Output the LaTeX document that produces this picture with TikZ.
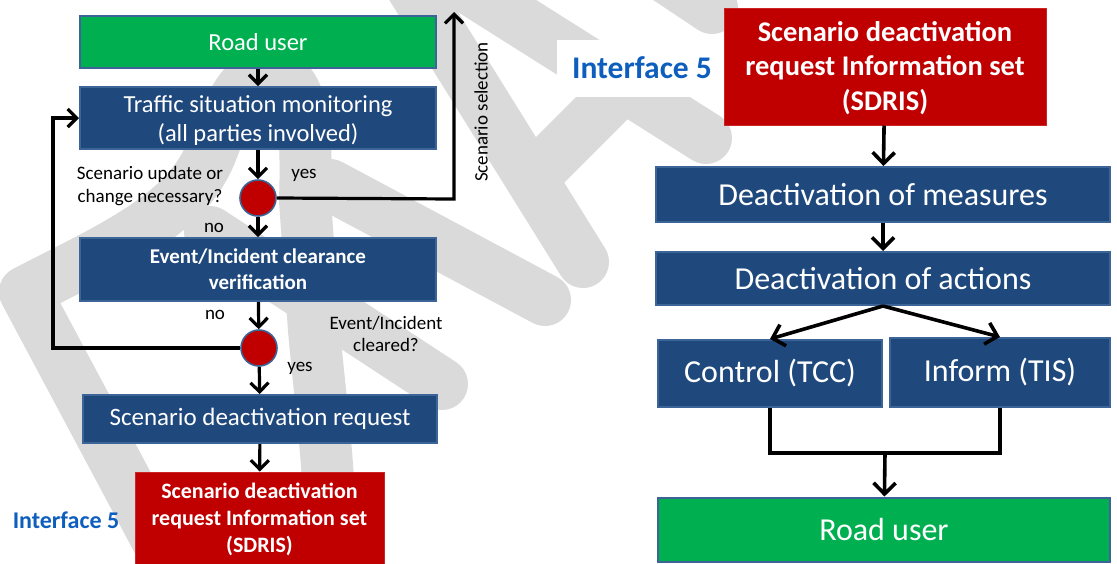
\documentclass[tikz,border=0pt]{standalone}
\usepackage{fontspec}
\setmainfont{Carlito}
\usetikzlibrary{arrows.meta}
\definecolor{flowblue}{HTML}{1F497D}
\definecolor{flowedge}{HTML}{3C6496}
\definecolor{flowgreen}{HTML}{00B050}
\definecolor{flowred}{HTML}{C00000}
\definecolor{ifblue}{HTML}{0E5EBD}
\definecolor{wmgray}{HTML}{DADADA}
\newcommand{\fsz}[2]{\fontsize{#1}{#2}\selectfont}
% centred lines, lowered a little inside their box
\newcommand{\lowlines}[2]{\raisebox{#1}[\height][\depth]{\begin{tabular}{@{}c@{}}#2\end{tabular}}}
\begin{document}
\begin{tikzpicture}[x=1pt,y=-1pt,
  bluebox/.style={draw=flowedge, line width=2pt, fill=flowblue, text=white, align=center, inner sep=0pt},
  greenbox/.style={bluebox, fill=flowgreen},
  redbox/.style={draw=flowred!85!white, line width=1pt, fill=flowred, text=white, align=center, inner sep=0pt, font=\bfseries},
  decision/.style={circle, fill=flowred, draw=flowedge, line width=1.6pt, minimum size=36pt, inner sep=0pt},
  lbl/.style={text=black, inner sep=0pt, align=center, font=\fsz{19}{22.5}},
  iface/.style={text=ifblue, inner sep=0pt, font=\bfseries},
  conn/.style={line width=3.2pt, draw=black, line join=miter},
  arr/.style={conn, -{Straight Barb[length=9pt, width=18pt, line width=3.2pt]}},
  bigconn/.style={line width=3.6pt, draw=black, line join=miter},
  bigarr/.style={bigconn, -{Straight Barb[length=11pt, width=22pt, line width=3.6pt]}},
  wm/.style={draw=wmgray, line width=52pt, line cap=round, line join=round}]
\useasboundingbox (0,0) rectangle (1117,563);
\fill[white] (0,0) rectangle (1117,563);

% watermark strokes
\draw[wm] (200,620) -- (25,292) .. controls (110,248) and (188,215) .. (212,150)
  .. controls (232,98) and (245,74) .. (268,74) .. controls (300,74) and (308,115) .. (305,200)
  -- (314,330) .. controls (322,420) and (332,470) .. (332,620);
\draw[wm] (210,232) -- (442,384);
\draw[wm] (330,185) -- (545,300);
\draw[wm] (395,-40) -- (583,262);
\draw[wm] (440,-30) -- (706,138);
\draw[wm] (540,170) -- (615,95);
\draw[wm] (640,-40) -- (712,8);

% left column
\node[greenbox, minimum width=356pt, minimum height=52pt, font=\fsz{24.5}{29}] (roadL) at (258,42) {Road user};
\node[bluebox, minimum width=356pt, minimum height=62pt, font=\fsz{24.5}{29}] (traffic) at (258,118) {\lowlines{-3pt}{Traffic situation monitoring\\(all parties involved)}};
\node[decision] (c1) at (258,198) {};
\node[bluebox, minimum width=356pt, minimum height=63pt, font=\bfseries\fsz{21}{26}] (event) at (258,269.5) {Event/Incident clearance\\verification};
\node[decision] (c2) at (259,348) {};
\node[bluebox, minimum width=354pt, minimum height=48pt, font=\fsz{25}{29}] (sdr) at (260,419) {Scenario deactivation request};
\node[redbox, minimum width=249pt, minimum height=94pt, font=\bfseries\fsz{22}{27}] (redL) at (259.5,519) {Scenario deactivation\\request Information set\\(SDRIS)};
\node[iface, font=\bfseries\fsz{24}{28}] (ifL) at (66,520) {Interface 5};

\node[lbl] (qupd) at (150,186) {Scenario update or\\change necessary?};
\node[lbl] (yes1) at (304,175) {yes};
\node[lbl] (no1) at (214,228) {no};
\node[lbl] (no2) at (215,315) {no};
\node[lbl] (qclr) at (386,334) {Event/Incident\\cleared?};
\node[lbl] (yes2) at (300,368) {yes};
\node[lbl, rotate=90] (sel) at (481,112) {Scenario selection};

\coordinate (selB) at (454,199);
\coordinate (selT) at (454,12);
\coordinate (loopB) at (53,348);
\coordinate (loopT) at (53,118);

\draw[arr] (roadL) -- (traffic);
\draw[arr] (traffic) -- (c1);
\draw[arr] (c1) -- (event);
\draw[arr] (event) -- (c2);
\draw[arr] (c2) -- (sdr);
\draw[arr] (sdr) -- (redL);
\draw[arr] (c1.east) -- (selB) -- (selT);
\draw[arr] (c2.west) -- (loopB) -- (loopT) -- (traffic.west);

% right column
\fill[white] (557,40) rectangle (722,97);
\node[iface, font=\bfseries\fsz{31.5}{36}] (ifR) at (642,68) {Interface 5};
\node[redbox, minimum width=322pt, minimum height=117pt, font=\bfseries\fsz{28.5}{34.5}] (redR) at (885,66.5) {\lowlines{-2.5pt}{Scenario deactivation\\request Information set\\(SDRIS)}};
\node[bluebox, minimum width=454pt, minimum height=55pt, font=\fsz{32}{36}] (meas) at (883,194.5) {Deactivation of measures};
\node[bluebox, minimum width=454pt, minimum height=53pt, font=\fsz{32}{36}] (acts) at (883,278.5) {Deactivation of actions};
\node[bluebox, minimum width=224pt, minimum height=67pt, font=\fsz{32}{36}] (tcc) at (770,373.5) {Control (TCC)};
\node[bluebox, minimum width=220pt, minimum height=69pt, font=\fsz{32}{36}] (tis) at (1000,372.5) {Inform (TIS)};
\node[greenbox, minimum width=452pt, minimum height=64pt, font=\fsz{32}{36}] (roadR) at (884,529.5) {Road user};

\coordinate (mrg) at (885,453);

\draw[bigarr] (redR) -- (meas);
\draw[bigarr] (meas) -- (acts);
\draw[bigarr] (acts.south) -- (tcc.north);
\draw[bigarr] (acts.south) -- (tis.north);
\draw[bigconn] (tcc.south) |- (mrg) -| (tis.south);
\draw[bigarr] (mrg) -- (roadR);
\end{tikzpicture}
\end{document}
